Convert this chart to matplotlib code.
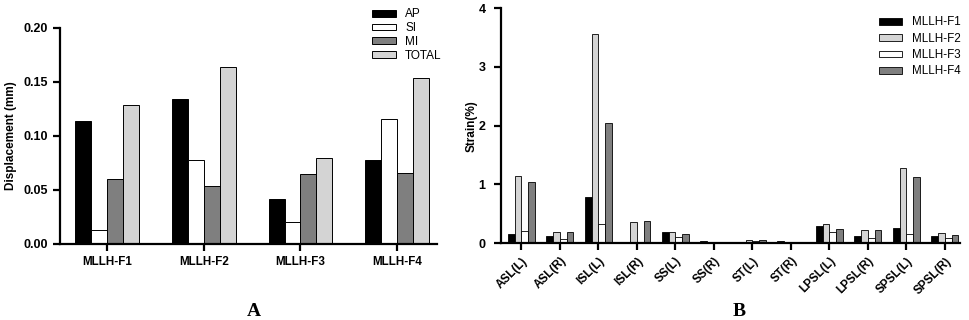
import numpy as np
import matplotlib
matplotlib.use('Agg')
import matplotlib.pyplot as plt

plt.rcParams['font.family'] = ['Liberation Sans', 'DejaVu Sans']

# panel A
groups_a = ['MLLH-F1', 'MLLH-F2', 'MLLH-F3', 'MLLH-F4']
ap = [0.114, 0.134, 0.042, 0.078]
si = [0.013, 0.078, 0.020, 0.116]
mi = [0.060, 0.054, 0.065, 0.066]
total = [0.129, 0.164, 0.080, 0.154]

# panel B
groups_b = ['ASL(L)', 'ASL(R)', 'ISL(L)', 'ISL(R)', 'SS(L)', 'SS(R)',
            'ST(L)', 'ST(R)', 'LPSL(L)', 'LPSL(R)', 'SPSL(L)', 'SPSL(R)']
f1 = [0.15, 0.12, 0.79, 0.00, 0.19, 0.03, 0.02, 0.04, 0.29, 0.12, 0.25, 0.12]
f2 = [1.14, 0.19, 3.56, 0.36, 0.18, 0.02, 0.05, 0.005, 0.33, 0.23, 1.28, 0.17]
f3 = [0.20, 0.07, 0.33, 0.02, 0.11, 0.01, 0.03, 0.00, 0.19, 0.09, 0.15, 0.08]
f4 = [1.045, 0.19, 2.05, 0.38, 0.16, 0.01, 0.05, 0.02, 0.24, 0.22, 1.12, 0.14]

black, white, dark, light = '#000000', '#ffffff', '#7f7f7f', '#d4d4d4'

fig = plt.figure(figsize=(9.69, 3.2), dpi=100)

def style(ax):
    for s in ['top', 'right']:
        ax.spines[s].set_visible(False)
    for s in ['left', 'bottom']:
        ax.spines[s].set_linewidth(1.6)
    ax.tick_params(width=1.6, length=5, direction='out')
    for lab in ax.get_yticklabels() + ax.get_xticklabels():
        lab.set_fontweight('bold')

# ---- A
ax1 = fig.add_axes([0.0619, 0.2375, 0.389, 0.675])
x = np.arange(len(groups_a))
w = 0.165
series_a = [('AP', ap, black), ('SI', si, white), ('MI', mi, dark), ('TOTAL', total, light)]
for i, (name, vals, c) in enumerate(series_a):
    ax1.bar(x + (i - 1.5) * w, vals, w, color=c, edgecolor='black', linewidth=0.7, label=name)
ax1.set_xlim(-0.485, 3.41)
ax1.set_ylim(0, 0.20)
ax1.set_yticks([0, 0.05, 0.10, 0.15, 0.20])
ax1.set_yticklabels(['0.00', '0.05', '0.10', '0.15', '0.20'], fontsize=9)
ax1.set_xticks(x)
ax1.set_xticklabels(groups_a, fontsize=8.4)
ax1.set_ylabel('Displacement (mm)', fontsize=8.5, fontweight='bold', labelpad=5)
style(ax1)
ax1.legend(loc='upper left', bbox_to_anchor=(0.80, 1.14), frameon=False, fontsize=8.5,
           handlelength=2.0, handleheight=0.5, labelspacing=0.15, handletextpad=0.8)

# ---- B
ax2 = fig.add_axes([0.517, 0.2406, 0.474, 0.7334])
x = np.arange(len(groups_b))
w = 0.175
series_b = [('MLLH-F1', f1, black), ('MLLH-F2', f2, light), ('MLLH-F3', f3, white), ('MLLH-F4', f4, dark)]
for i, (name, vals, c) in enumerate(series_b):
    ax2.bar(x + (i - 1.5) * w, vals, w, color=c, edgecolor='black', linewidth=0.6, label=name)
ax2.set_xlim(-0.53, 11.4)
ax2.set_ylim(0, 4)
ax2.set_yticks([0, 1, 2, 3, 4])
ax2.set_yticklabels(['0', '1', '2', '3', '4'], fontsize=9)
ax2.set_xticks(x)
ax2.set_xticklabels(groups_b, fontsize=8.4, rotation=45, ha='right', rotation_mode='anchor')
ax2.set_ylabel('Strain(%)', fontsize=8.5, fontweight='bold', labelpad=1)
style(ax2)
ax2.tick_params(axis='y', pad=6)
ax2.legend(loc='upper left', bbox_to_anchor=(0.80, 1.01), frameon=False, fontsize=8.4,
           handlelength=2.0, handleheight=0.5, labelspacing=0.37, handletextpad=0.8)

fig.text(0.262, 0.014, 'A', fontsize=14, fontweight='bold', family='Liberation Serif', ha='center')
fig.text(0.763, 0.014, 'B', fontsize=14, fontweight='bold', family='Liberation Serif', ha='center')

fig.savefig('out.png', dpi=100)
